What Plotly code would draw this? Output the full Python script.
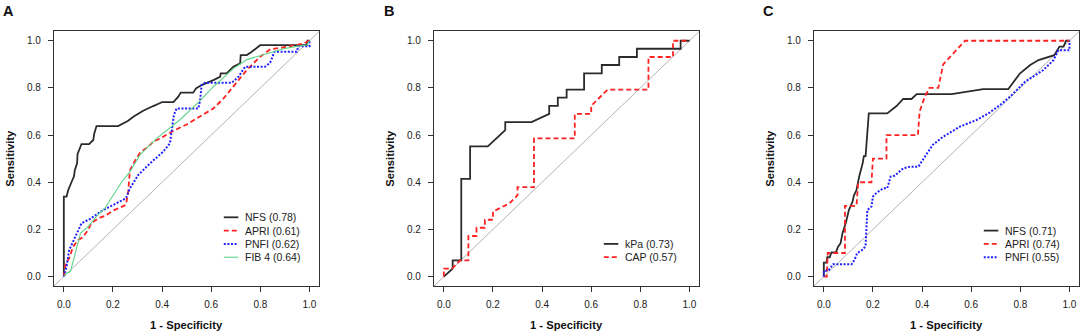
import plotly.graph_objects as go

# ---------------- Data ----------------
TICKS = [0.0, 0.2, 0.4, 0.6, 0.8, 1.0]
TICK_TEXT = ["0.0", "0.2", "0.4", "0.6", "0.8", "1.0"]

# Panel A
A_NFS_X = [0, 0, 0.011, 0.018, 0.031, 0.041, 0.045, 0.054, 0.056, 0.065, 0.072, 0.103, 0.12, 0.124, 0.133,
           0.221, 0.262, 0.283, 0.323, 0.364, 0.401, 0.446, 0.466, 0.476, 0.527, 0.538, 0.561, 0.609, 0.636,
           0.639, 0.663, 0.690, 0.718, 0.720, 0.745, 0.765, 0.799, 0.989, 0.992, 1.0]
A_NFS_Y = [0, 0.339, 0.339, 0.367, 0.40, 0.424, 0.452, 0.48, 0.52, 0.544, 0.562, 0.562, 0.579, 0.607, 0.638,
           0.638, 0.661, 0.678, 0.703, 0.723, 0.740, 0.740, 0.763, 0.78, 0.78, 0.798, 0.812, 0.833, 0.847,
           0.862, 0.862, 0.890, 0.904, 0.939, 0.939, 0.953, 0.981, 0.981, 1.0, 1.0]

A_APRI_X = [0, 0.008, 0.022, 0.038, 0.058, 0.076, 0.099, 0.113, 0.147, 0.167, 0.201, 0.253, 0.262, 0.269,
            0.289, 0.31, 0.344, 0.364, 0.391, 0.446, 0.5, 0.555, 0.609, 0.65, 0.69, 0.745, 0.799, 0.840,
            0.908, 0.976, 1.0]
A_APRI_Y = [0, 0.056, 0.078, 0.127, 0.155, 0.165, 0.198, 0.229, 0.25, 0.257, 0.28, 0.304, 0.36, 0.45,
            0.49, 0.525, 0.551, 0.572, 0.585, 0.618, 0.645, 0.678, 0.713, 0.755, 0.805, 0.876, 0.932, 0.963,
            0.974, 0.988, 1.0]

A_PNFI_X = [0, 0.011, 0.022, 0.038, 0.052, 0.072, 0.106, 0.160, 0.215, 0.253, 0.269, 0.303, 0.351, 0.405,
            0.432, 0.439, 0.448, 0.459, 0.548, 0.555, 0.561, 0.575, 0.684, 0.711, 0.738, 0.819, 0.840, 0.857,
            0.948, 0.955, 1.0, 1.0]
A_PNFI_Y = [0, 0.042, 0.113, 0.148, 0.184, 0.226, 0.244, 0.282, 0.311, 0.332, 0.374, 0.431, 0.48, 0.53,
            0.565, 0.621, 0.685, 0.713, 0.713, 0.75, 0.812, 0.822, 0.822, 0.847, 0.890, 0.890, 0.907, 0.953,
            0.953, 0.977, 0.977, 1.0]

A_FIB4_X = [0, 0.011, 0.027, 0.045, 0.052, 0.068, 0.099, 0.133, 0.167, 0.235, 0.269, 0.31, 0.378, 0.473,
            0.554, 0.609, 0.69, 0.745, 0.826, 0.894, 0.948, 0.989, 1.0]
A_FIB4_Y = [0, 0.014, 0.021, 0.092, 0.113, 0.184, 0.212, 0.255, 0.29, 0.40, 0.445, 0.516, 0.586, 0.665,
            0.745, 0.805, 0.882, 0.920, 0.945, 0.966, 0.976, 0.982, 1.0]

# Panel B
B_KPA_X = [0, 0.036, 0.036, 0.071, 0.071, 0.107, 0.107, 0.179, 0.25, 0.25, 0.357, 0.429, 0.429, 0.464,
           0.464, 0.5, 0.5, 0.571, 0.571, 0.643, 0.643, 0.714, 0.714, 0.786, 0.786, 0.964, 0.964, 1.0]
B_KPA_Y = [0, 0.034, 0.069, 0.069, 0.414, 0.414, 0.552, 0.552, 0.621, 0.655, 0.655, 0.690, 0.724, 0.724,
           0.759, 0.759, 0.793, 0.793, 0.862, 0.862, 0.897, 0.897, 0.931, 0.931, 0.966, 0.966, 1.0, 1.0]

B_CAP_X = [0, 0, 0.033, 0.067, 0.1, 0.1, 0.133, 0.133, 0.167, 0.167, 0.2, 0.2, 0.267, 0.3, 0.3, 0.367,
           0.367, 0.533, 0.533, 0.6, 0.6, 0.667, 0.833, 0.833, 0.933, 0.933, 1.0]
B_CAP_Y = [0, 0.034, 0.034, 0.069, 0.069, 0.172, 0.172, 0.207, 0.207, 0.241, 0.241, 0.276, 0.31, 0.345,
           0.379, 0.379, 0.586, 0.586, 0.690, 0.690, 0.724, 0.793, 0.793, 0.931, 0.931, 1.0, 1.0]

# Panel C
C_NFS_X = [0, 0, 0.011, 0.014, 0.024, 0.031, 0.049, 0.058, 0.068, 0.076, 0.09, 0.102, 0.117, 0.122, 0.133,
           0.144, 0.158, 0.163, 0.170, 0.174, 0.178, 0.183, 0.258, 0.276, 0.296, 0.323, 0.357, 0.378, 0.52,
           0.649, 0.751, 0.799, 0.840, 0.874, 0.938, 0.959, 0.976, 0.986, 1.0]
C_NFS_Y = [0, 0.059, 0.059, 0.082, 0.082, 0.102, 0.102, 0.127, 0.141, 0.184, 0.229, 0.282, 0.318, 0.342,
           0.367, 0.424, 0.48, 0.511, 0.511, 0.565, 0.621, 0.692, 0.692, 0.706, 0.723, 0.753, 0.753, 0.774,
           0.774, 0.795, 0.795, 0.862, 0.897, 0.918, 0.939, 0.975, 0.975, 1.0, 1.0]

C_APRI_X = [0, 0.012, 0.016, 0.086, 0.086, 0.133, 0.14, 0.194, 0.2, 0.255, 0.255, 0.383, 0.39, 0.41, 0.43,
            0.466, 0.486, 0.575, 1.0]
C_APRI_Y = [0, 0.0, 0.1, 0.1, 0.3, 0.3, 0.4, 0.4, 0.5, 0.5, 0.6, 0.6, 0.7, 0.76, 0.8, 0.8, 0.9, 1.0, 1.0]

C_PNFI_X = [0, 0, 0.018, 0.038, 0.113, 0.125, 0.136, 0.16, 0.17, 0.174, 0.177, 0.194, 0.2, 0.215, 0.242,
            0.258, 0.272, 0.289, 0.323, 0.351, 0.385, 0.443, 0.486, 0.554, 0.622, 0.670, 0.717, 0.758, 0.819,
            0.894, 0.935, 0.955, 1.0, 1.0]
C_PNFI_Y = [0, 0.025, 0.025, 0.052, 0.052, 0.071, 0.1, 0.115, 0.13, 0.2, 0.282, 0.297, 0.339, 0.356, 0.374,
            0.374, 0.424, 0.428, 0.459, 0.466, 0.466, 0.558, 0.593, 0.636, 0.664, 0.692, 0.727, 0.763, 0.826,
            0.876, 0.918, 0.96, 0.96, 1.0]

LEGEND_A = ["NFS (0.78)", "APRI (0.61)", "PNFI (0.62)", "FIB 4 (0.64)"]
LEGEND_B = ["kPa (0.73)", "CAP (0.57)"]
LEGEND_C = ["NFS (0.71)", "APRI (0.74)", "PNFI (0.55)"]
PANEL_LABELS = ["A", "B", "C"]

# ---------------- Styles / geometry ----------------
W, H = 1084, 336
FONT = "Liberation Sans, Arial, Helvetica, sans-serif"
BLACK = dict(color="#2b2b2b", width=1.8, dash="solid")
RED = dict(color="#ff2222", width=1.8, dash="5px,3px")
BLUE = dict(color="#2020ff", width=2.0, dash="2px,1.6px")
GREEN = dict(color="#5ed38a", width=1.1, dash="solid")

BOX_LEFT = [54, 434, 814]      # page pixels
BOX_W = 265.3
BOX_TOP, BOX_BOT = 31.3, 286.0


def px(x):
    return x / W


def py(y):
    return (H - y) / H


fig = go.Figure()

panels = [
    [(A_NFS_X, A_NFS_Y, BLACK), (A_APRI_X, A_APRI_Y, RED), (A_PNFI_X, A_PNFI_Y, BLUE), (A_FIB4_X, A_FIB4_Y, GREEN)],
    [(B_KPA_X, B_KPA_Y, BLACK), (B_CAP_X, B_CAP_Y, RED)],
    [(C_NFS_X, C_NFS_Y, BLACK), (C_APRI_X, C_APRI_Y, RED), (C_PNFI_X, C_PNFI_Y, BLUE)],
]
legends = [
    (LEGEND_A, [BLACK, RED, BLUE, GREEN]),
    (LEGEND_B, [BLACK, RED]),
    (LEGEND_C, [BLACK, RED, BLUE]),
]

ROW_Y = [217.3, 230.6, 243.9, 257.2]

axis_common = dict(
    range=[-0.04, 1.04], tickvals=TICKS, ticktext=TICK_TEXT, showgrid=False, zeroline=False,
    showline=True, mirror=True, linecolor="#333333", linewidth=1.4, ticks="outside", ticklen=5,
    tickwidth=1, tickcolor="#333333", tickfont=dict(family=FONT, size=10, color="#222222"),
    fixedrange=True,
)

shapes = []
annotations = []
for i, traces in enumerate(panels):
    sfx = "" if i == 0 else str(i + 1)
    xa, ya = "x" + sfx, "y" + sfx
    left = BOX_LEFT[i]
    right = left + BOX_W
    fig.layout["xaxis" + sfx] = dict(axis_common, domain=[px(left), px(right)], anchor=ya, ticklabelstandoff=4)
    fig.layout["yaxis" + sfx] = dict(axis_common, domain=[py(BOX_BOT), py(BOX_TOP)], anchor=xa,
                                     ticklabelstandoff=5)
    shapes.append(dict(type="line", xref=xa, yref=ya, x0=-0.04, y0=-0.04, x1=1.04, y1=1.04,
                       line=dict(color="#b4b4b4", width=1), layer="below"))
    for xs, ys, st in traces:
        fig.add_trace(go.Scatter(x=xs, y=ys, mode="lines", line=st, xaxis=xa, yaxis=ya,
                                 showlegend=False, hoverinfo="skip"))
    names, styles = legends[i]
    rows = ROW_Y[4 - len(names):]
    for name, st, ry in zip(names, styles, rows):
        shapes.append(dict(type="line", xref="paper", yref="paper",
                           x0=px(right - 95.5), x1=px(right - 81.0), y0=py(ry), y1=py(ry),
                           line=dict(color=st["color"], width=st["width"], dash=st["dash"])))
        annotations.append(dict(text=name, xref="paper", yref="paper", x=px(right - 76.8), y=py(ry),
                                xanchor="left", yanchor="middle", showarrow=False,
                                font=dict(family=FONT, size=10.5, color="#222222")))
    annotations.append(dict(text="<b>1 - Specificity</b>", xref="paper", yref="paper",
                            x=px(left + BOX_W / 2), y=py(325), xanchor="center", yanchor="middle",
                            showarrow=False, font=dict(family=FONT, size=11.2, color="#111111")))
    annotations.append(dict(text="<b>Sensitivity</b>", xref="paper", yref="paper",
                            x=px(left - 44), y=py((BOX_TOP + BOX_BOT) / 2), xanchor="center",
                            yanchor="middle", textangle=-90, showarrow=False,
                            font=dict(family=FONT, size=11.2, color="#111111")))
    annotations.append(dict(text="<b>" + PANEL_LABELS[i] + "</b>", xref="paper", yref="paper",
                            x=px(left - 45.5), y=py(10.5), xanchor="center", yanchor="middle",
                            showarrow=False, font=dict(family=FONT, size=14.5, color="#111111")))

fig.update_layout(
    width=W, height=H, autosize=False,
    margin=dict(l=0, r=0, t=0, b=0),
    paper_bgcolor="white", plot_bgcolor="white",
    shapes=shapes, annotations=annotations, showlegend=False,
)

# remove the default 8px page margin so the figure fills the window exactly; hide the modebar
fig.write_html("out.html", config={"displayModeBar": False},
               post_script="document.body.style.margin='0';document.body.style.overflow='hidden';")
